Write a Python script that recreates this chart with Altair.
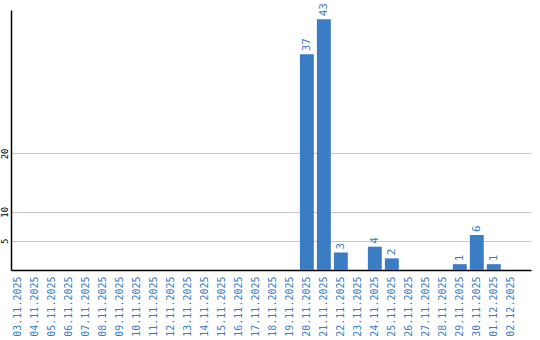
import altair as alt
import pandas as pd

dates = [
    "03.11.2025", "04.11.2025", "05.11.2025", "06.11.2025", "07.11.2025",
    "08.11.2025", "09.11.2025", "10.11.2025", "11.11.2025", "12.11.2025",
    "13.11.2025", "14.11.2025", "15.11.2025", "16.11.2025", "17.11.2025",
    "18.11.2025", "19.11.2025", "20.11.2025", "21.11.2025", "22.11.2025",
    "23.11.2025", "24.11.2025", "25.11.2025", "26.11.2025", "27.11.2025",
    "28.11.2025", "29.11.2025", "30.11.2025", "01.12.2025", "02.12.2025",
]
counts = [0, 0, 0, 0, 0, 0, 0, 0, 0, 0,
          0, 0, 0, 0, 0, 0, 0, 37, 43, 3,
          0, 4, 2, 0, 0, 0, 1, 6, 1, 0]
y_ticks = [5, 10, 20]

df = pd.DataFrame({"date": dates, "count": counts})

BLUE = "#3a7dc4"
FONT = "DejaVu Sans Mono"

x = alt.X(
    "date:N",
    sort=dates,
    title=None,
    scale=alt.Scale(paddingInner=0.18, paddingOuter=0.39, align=0),
    axis=alt.Axis(
        labelAngle=270, labelAlign="right", labelBaseline="middle",
        labelColor=BLUE, labelFont=FONT, labelFontSize=10,
        labelPadding=6, ticks=False, domainColor="black", domainWidth=1.5,
        grid=False, labelOverlap=False,
    ),
)
y = alt.Y(
    "count:Q",
    title=None,
    scale=alt.Scale(domain=[0, 44.6], nice=False),
    axis=alt.Axis(
        values=y_ticks, labelAngle=270, labelAlign="center", labelBaseline="bottom",
        labelFont=FONT, labelFontSize=9, labelColor="black",
        labelPadding=2, ticks=False, domainColor="black", domainWidth=1.5,
        grid=True, gridColor="#c8c8c8", gridWidth=1.2,
    ),
)

bars = alt.Chart(df).mark_bar(color=BLUE).encode(x=x, y=y)

labels = alt.Chart(df).transform_filter("datum.count > 0").mark_text(
    angle=270, align="left", baseline="middle", dx=3,
    color=BLUE, font=FONT, fontSize=11,
).encode(x=alt.X("date:N", sort=dates), y=alt.Y("count:Q"), text="count:Q")

chart = (bars + labels).properties(
    width=520, height=260,
    autosize=alt.AutoSizeParams(type="none"),
    padding={"left": 11, "top": 10, "right": 9, "bottom": 70},
).configure_view(stroke=None).configure_axisY(domain=True)

chart.save("out.html", embed_options={"renderer": "svg", "actions": False})
